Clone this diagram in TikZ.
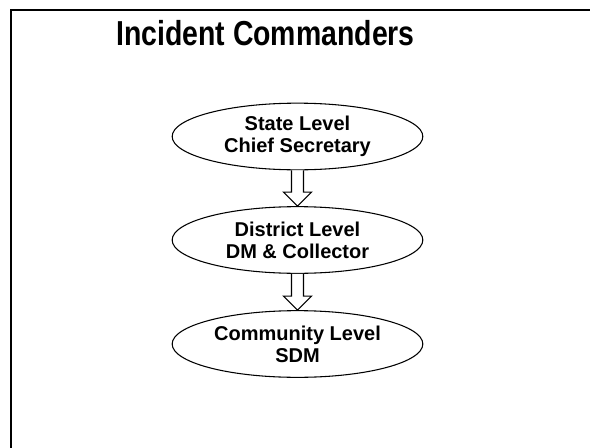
\documentclass[tikz,border=0pt]{standalone}
\usepackage{fontspec}
\setmainfont{Liberation Sans}
\usetikzlibrary{shapes.geometric,calc}
\begin{document}
\begin{tikzpicture}[x=0.75pt,y=-0.75pt,
  level/.style={ellipse,draw,line width=0.8pt,minimum width=188pt,minimum height=50pt,inner sep=0pt,align=center,
    font=\fontsize{15}{16.5}\selectfont\bfseries},
  blockarrow/.style={draw,line width=0.8pt,fill=white,line join=miter}]
\useasboundingbox (0,0) rectangle (590,447);
\draw[line width=1.5pt] (11,448) -- (11,10) -- (591,10);
\node[anchor=base,font=\fontsize{26}{28}\selectfont\bfseries] (title) at (265.5,45) {\scalebox{0.82}[1]{Incident Commanders}};
\node[level] (e1) at (297.5,136.5) {State Level\\Chief Secretary};
\node[level] (e2) at (297.5,240) {District Level\\DM \& Collector};
\node[level] (e3) at (297.5,344) {Community Level\\SDM};
\foreach \a/\b in {e1/e2,e2/e3}{
  \draw[blockarrow] ($(\a.south)+(-6,0)$) -- ($(\b.north)+(-6,-14)$) -- ($(\b.north)+(-14,-14)$) -- (\b.north)
    -- ($(\b.north)+(14,-14)$) -- ($(\b.north)+(6,-14)$) -- ($(\a.south)+(6,0)$);
}
\end{tikzpicture}
\end{document}
